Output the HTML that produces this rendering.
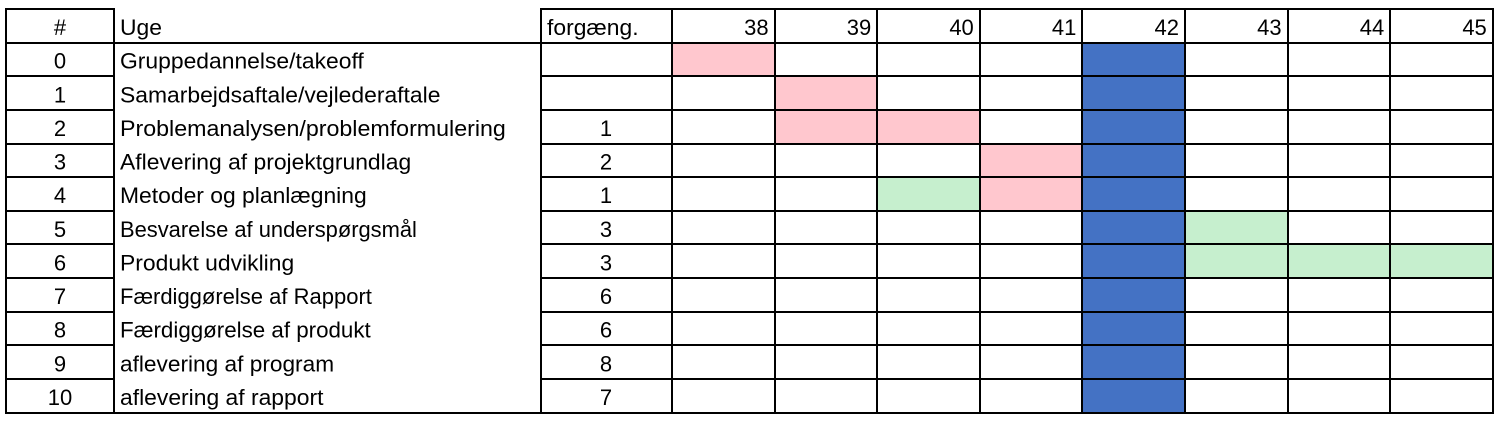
<!DOCTYPE html>
<html lang="da">
<head>
<meta charset="utf-8">
<title>Gantt-plan</title>
<style>
html,body{margin:0;padding:0;background:#fff;width:1500px;height:421px;overflow:hidden}
svg{display:block}
text{font-family:"Liberation Sans",Arial,sans-serif;font-size:22px;fill:#000}
</style>
</head>
<body>
<svg id="chart" width="1500" height="421" viewBox="0 0 1500 421" xmlns="http://www.w3.org/2000/svg"></svg>
<script>
const weeks = [38, 39, 40, 41, 42, 43, 44, 45];
const tasks = ["Gruppedannelse/takeoff", "Samarbejdsaftale/vejlederaftale", "Problemanalysen/problemformulering", "Aflevering af projektgrundlag", "Metoder og planlægning", "Besvarelse af underspørgsmål", "Produkt udvikling", "Færdiggørelse af Rapport", "Færdiggørelse af produkt", "aflevering af program", "aflevering af rapport"];
const predecessors = ["", "", 1, 2, 1, 3, 3, 6, 6, 8, 7];
const pinkWeeks = [[38], [39], [39, 40], [41], [41], [], [], [], [], [], []];
const greenWeeks = [[], [], [], [], [40], [43], [43, 44, 45], [], [], [], []];
const milestoneWeek = 42;

const NS = "http://www.w3.org/2000/svg";
const svg = document.getElementById("chart");
const xWeek = w => 672 + 102.6 * weeks.indexOf(w);
const colW = 102.6;
const yRow = i => 42.7 + 33.62 * i;
const rowH = 33.62;
const TEXT_SCALE = 1.04;
/* horizontal fit for strings whose glyph mix differs most from the source font */
const fitScale = s => {
  if (s.startsWith("Besvarelse")) return 0.996;
  if (s.endsWith("Rapport")) return 1.0;
  if (s.endsWith("produkt")) return 1.016;
  if (s.startsWith("Problem")) return 1.056;
  if (s.endsWith("program")) return 1.03;
  return TEXT_SCALE;
};

function rect(x, y, w, h, fill) {
  const r = document.createElementNS(NS, "rect");
  r.setAttribute("x", Math.round(x));
  r.setAttribute("y", Math.round(y));
  r.setAttribute("width", Math.round(x + w) - Math.round(x));
  r.setAttribute("height", Math.round(y + h) - Math.round(y));
  r.setAttribute("fill", fill);
  svg.appendChild(r);
  return r;
}
function line(x1, y1, x2, y2) {
  const l = document.createElementNS(NS, "line");
  l.setAttribute("x1", Math.round(x1));
  l.setAttribute("y1", Math.round(y1));
  l.setAttribute("x2", Math.round(x2));
  l.setAttribute("y2", Math.round(y2));
  l.setAttribute("stroke", "#000");
  l.setAttribute("stroke-width", "2");
  l.setAttribute("shape-rendering", "crispEdges");
  svg.appendChild(l);
  return l;
}
function label(str, x, y, anchor, scale) {
  const t = document.createElementNS(NS, "text");
  t.textContent = str;
  t.setAttribute("text-anchor", anchor);
  t.setAttribute("transform", "translate(" + x + " " + y + ") scale(" + scale + " 1)");
  svg.appendChild(t);
  return t;
}

/* fills */
tasks.forEach((_, i) => {
  pinkWeeks[i].forEach(w => {
    const r = rect(xWeek(w), yRow(i), colW, rowH, "#FFC7CE");
    
    
  });
  greenWeeks[i].forEach(w => {
    const r = rect(xWeek(w), yRow(i), colW, rowH, "#C6EFCE");
    
    
  });
});
const band = rect(xWeek(milestoneWeek), yRow(0), colW, rowH * tasks.length, "#4472C4");



/* grid */
const bottom = yRow(tasks.length);
const lastX = xWeek(weeks[0]) + colW * weeks.length;
[6, 114, 541].forEach(x => {
  const l = line(x, 8, x, bottom + 1);
  
  
});
for (let i = 0; i <= weeks.length; i++) {
  const x = xWeek(weeks[0]) + colW * i;
  const l = line(x, 8, x, bottom + 1);
  
  
}
for (let i = -1; i <= tasks.length; i++) {
  const y = i < 0 ? 9 : yRow(i);
  const full = i === 0 || i === tasks.length;
  if (full) {
    const l = line(5, y, lastX + 1, y);
    
    
  } else {
    const a = line(5, y, 115, y);
    
    
    const b = line(540, y, lastX + 1, y);
    
    
  }
}

/* header */
const hNum = label("#", 60, 35, "middle", 1);


const hUge = label("Uge", 120, 35, "start", TEXT_SCALE);


const hPre = label("forgæng.", 547, 35, "start", TEXT_SCALE);


weeks.forEach(w => {
  const t = label(String(w), xWeek(w) + colW - 6, 35, "end", 1);
  
  
});

/* rows */
tasks.forEach((task, i) => {
  const base = yRow(i) + 26;
  const n = label(String(i), 60, base, "middle", 1);
  
  
  const t = label(task, 120, base, "start", fitScale(task));
  
  
  if (predecessors[i] !== "") {
    const p = label(String(predecessors[i]), 606, base, "middle", 1);
    
    
  }
});
</script>
</body>
</html>
